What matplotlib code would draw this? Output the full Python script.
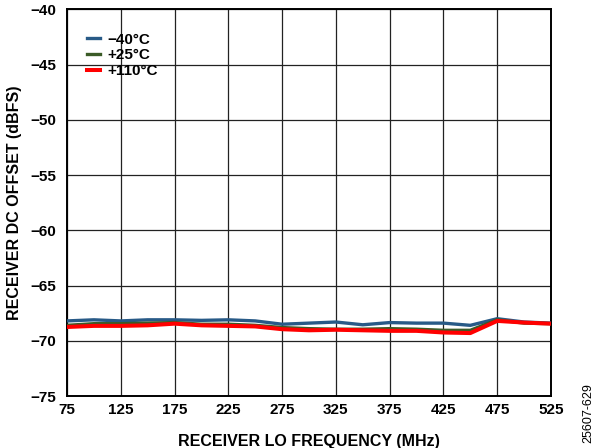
import matplotlib
matplotlib.use("Agg")
import matplotlib.pyplot as plt

# ==========================================================
# Datos
# ==========================================================

freq_mhz = [75, 100, 125, 150, 175, 200, 225, 250, 275, 300,
            325, 350, 375, 400, 425, 450, 475, 500, 525]

offset_m40 = [-68.2, -68.1, -68.2, -68.1, -68.1, -68.15, -68.1, -68.2, -68.5, -68.4,
              -68.3, -68.55, -68.35, -68.4, -68.4, -68.6, -68.0, -68.3, -68.4]

offset_p25 = [-68.6, -68.45, -68.45, -68.4, -68.35, -68.5, -68.5, -68.6, -68.8, -68.9,
              -68.95, -68.95, -68.9, -68.95, -69.05, -69.05, -68.1, -68.4, -68.45]

offset_p110 = [-68.75, -68.65, -68.65, -68.6, -68.45, -68.6, -68.65, -68.7, -68.95, -69.05,
               -69.0, -69.05, -69.1, -69.1, -69.25, -69.3, -68.2, -68.35, -68.45]

labels = ["\u221240°C", "+25°C", "+110°C"]
xticks = [75, 125, 175, 225, 275, 325, 375, 425, 475, 525]
yticks = [-75, -70, -65, -60, -55, -50, -45, -40]

# ==========================================================
# Figura
# ==========================================================

plt.rcParams["font.family"] = ["Liberation Sans", "DejaVu Sans"]
plt.rcParams["axes.unicode_minus"] = True

fig = plt.figure(figsize=(6, 4.48), dpi=100)
ax = fig.add_axes([0.1117, 0.116, 0.8066, 0.863])

ax.plot(freq_mhz, offset_m40, color="#285a87", linewidth=2.4, label=labels[0], zorder=3)
ax.plot(freq_mhz, offset_p25, color="#3b5b27", linewidth=2.4, label=labels[1], zorder=4)
ax.plot(freq_mhz, offset_p110, color="#ff0000", linewidth=2.9, label=labels[2], zorder=5)

ax.set_xlim(75, 525)
ax.set_ylim(-75, -40)
ax.set_xticks(xticks)
ax.set_yticks(yticks)
ax.set_yticklabels([f"\u2212{abs(v)}" for v in yticks])

ax.grid(True, color="#222222", linewidth=0.9)
ax.tick_params(axis="y", length=0, pad=8, labelsize=11)
ax.tick_params(axis="x", length=0, pad=5, labelsize=11)
for lab in ax.get_xticklabels() + ax.get_yticklabels():
    lab.set_fontweight("bold")

for sp in ax.spines.values():
    sp.set_linewidth(1.4)
    sp.set_color("black")

ax.set_xlabel("RECEIVER LO FREQUENCY (MHz)", fontsize=11.5, fontweight="bold", labelpad=12)
ax.set_ylabel("RECEIVER DC OFFSET (dBFS)", fontsize=11.5, fontweight="bold", labelpad=6)

leg = ax.legend(
    loc="upper left",
    bbox_to_anchor=(0.012, 0.975),
    frameon=False,
    handlelength=0.9,
    handletextpad=0.45,
    labelspacing=0.1,
    prop={"weight": "bold", "size": 11},
)

fig.text(0.98, 0.012, "25607-629", rotation=90, fontsize=9, ha="center", va="bottom")

fig.savefig("out.png", dpi=100)
